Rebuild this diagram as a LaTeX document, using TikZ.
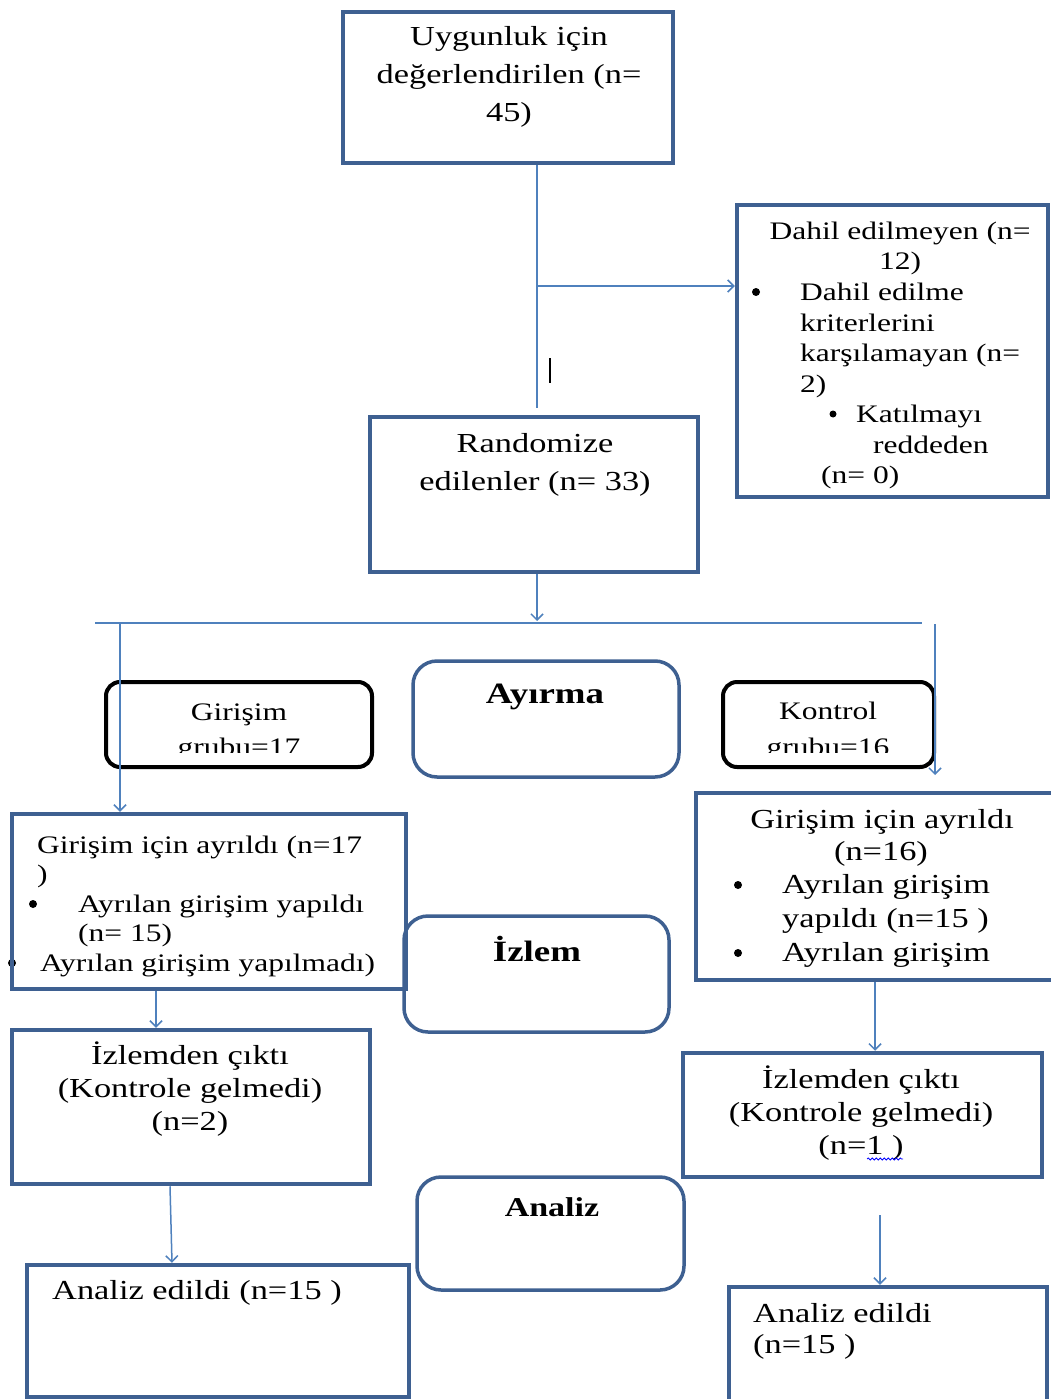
\documentclass[tikz,border=0pt]{standalone}
\usepackage{fontspec}
\setmainfont{Liberation Serif}[FakeStretch=1.25]
\usetikzlibrary{arrows.meta,decorations.pathmorphing}
\definecolor{boxblue}{RGB}{62,96,145}
\definecolor{lineblue}{RGB}{79,129,189}
\newcommand\szbig{\fontsize{27.5}{33}\selectfont}
\newcommand\szsmall{\fontsize{25.2}{30}\selectfont}
\newcommand\szboldA{\fontsize{29.5}{33}\selectfont\bfseries}
\newcommand\szboldB{\fontsize{27.2}{33}\selectfont\bfseries}
\begin{document}
\begin{tikzpicture}[x=1pt,y=-1pt,
  rbox/.style={draw=boxblue, line width=4.5pt, inner sep=0pt},
  gbox/.style={draw=black, line width=4pt, rounded corners=14pt, inner sep=0pt},
  bbox/.style={draw=boxblue, line width=3.5pt, rounded corners=24pt, inner sep=0pt},
  conn/.style={draw=lineblue, line width=1.5pt},
  arr/.style={conn, -{Straight Barb[length=6pt,width=12pt]}},
  dot/.style={circle, fill=black, inner sep=0pt, minimum size=8pt},
  txb/.style={inner sep=0pt, anchor=base, font=\szbig},
  txbl/.style={inner sep=0pt, anchor=base west, font=\szbig},
  txs/.style={inner sep=0pt, anchor=base, font=\szsmall},
  txsl/.style={inner sep=0pt, anchor=base west, font=\szsmall},
  txh/.style={inner sep=0pt, anchor=base, font=\szboldA},
  txh2/.style={inner sep=0pt, anchor=base, font=\szboldB}]
\useasboundingbox[fill=white] (0,0) rectangle (1051,1399);

% half-hidden bullet under the left border
\node[dot] (glb2) at (12,963) {};

% boxes
\node[rbox, minimum width=330pt, minimum height=151pt] (top) at (508,87.5) {};
\node[rbox, minimum width=311pt, minimum height=292pt] (dahil) at (892.5,351) {};
\node[rbox, minimum width=328pt, minimum height=155pt] (rand) at (534,494.5) {};
\node[gbox, minimum width=266pt, minimum height=85pt] (ggrp) at (239,724.5) {};
\node[gbox, minimum width=211pt, minimum height=85pt] (kgrp) at (828.5,724.5) {};
\node[bbox, minimum width=266pt, minimum height=116pt] (ayr) at (546,719) {};
\node[rbox, minimum width=394pt, minimum height=175pt] (gl) at (209,901.5) {};
\node[rbox, minimum width=364pt, minimum height=187pt] (gr) at (878,886.5) {};
\node[bbox, minimum width=265pt, minimum height=116pt] (izl) at (536.5,974) {};
\node[rbox, minimum width=358pt, minimum height=154pt] (lizl) at (191,1107) {};
\node[rbox, minimum width=359pt, minimum height=124pt] (rizl) at (862.5,1115) {};
\node[bbox, minimum width=267pt, minimum height=113pt] (anl) at (550.5,1233.5) {};
\node[rbox, minimum width=382pt, minimum height=132pt] (lanl) at (218,1331) {};
\node[rbox, minimum width=318pt, minimum height=133pt] (ranl) at (888,1353.5) {};

% texts: top
\node[txb] (t1) at (509,46) {Uygunluk için};
\node[txb] (t2) at (509,84) {değerlendirilen (n=};
\node[txb] (t3) at (509,122) {45)};
% dahil
\node[txs] (d1) at (900,239) {Dahil edilmeyen (n=};
\node[txs] (d2) at (900,269) {12)};
\node[dot] (d3b) at (756,292) {};
\node[txsl] (d3) at (800,300) {Dahil edilme};
\node[txsl] (d4) at (800,331) {kriterlerini};
\node[txsl] (d5) at (800,361) {karşılamayan (n=};
\node[txsl] (d6) at (800,392) {2)};
\node[dot, minimum size=7pt] (d7b) at (833,414) {};
\node[txsl] (d7) at (856,422) {Katılmayı};
\node[txsl] (d8) at (873,453) {reddeden};
\node[txsl] (d9) at (821,483) {(n= 0)};
% randomize
\node[txb] (r1) at (535,452) {Randomize};
\node[txb] (r2) at (535,490) {edilenler (n= 33)};
% groups
\node[txs] (g1) at (239,720) {Girişim};
\begin{scope}
\clip (100,670) rectangle (380,752);
\node[txs] (g2) at (239,755) {grubu=17};
\end{scope}
\node[txs] (k1) at (828,719) {Kontrol};
\begin{scope}
\clip (715,670) rectangle (940,752);
\node[txs] (k2) at (828,755) {grubu=16};
\end{scope}
\node[txh] (h1) at (545,703) {Ayırma};
% left allocation
\node[txsl] (l1) at (37,853) {Girişim için ayrıldı (n=17};
\node[txsl] (l2) at (37,882) {)};
\node[dot] (l3b) at (33,904) {};
\node[txsl] (l3) at (78,912) {Ayrılan girişim yapıldı};
\node[txsl] (l4) at (78,941) {(n= 15)};
\node[txsl] (l5) at (40,971) {Ayrılan girişim yapılmadı)};
% right allocation
\node[txb] (q1) at (882,828) {Girişim için ayrıldı};
\node[txb] (q2) at (881,860) {(n=16)};
\node[dot] (q3b) at (738,885) {};
\node[txbl] (q3) at (782,893) {Ayrılan girişim};
\node[txbl] (q4) at (782,927) {yapıldı (n=15 )};
\node[dot] (q5b) at (738,953) {};
\node[txbl] (q5) at (782,961) {Ayrılan girişim};
\node[txh] (h2) at (537,961) {İzlem};
% follow-up
\node[txb] (f1) at (190,1064) {İzlemden çıktı};
\node[txb] (f2) at (190,1097) {(Kontrole gelmedi)};
\node[txb] (f3) at (190,1130) {(n=2)};
\node[txb] (e1) at (861,1088) {İzlemden çıktı};
\node[txb] (e2) at (861,1121) {(Kontrole gelmedi)};
\node[txb] (e3) at (861,1154) {(n=1 )};
\draw[blue, line width=0.8pt, decorate, decoration={snake, amplitude=1pt, segment length=4pt}] (867,1159) -- (903,1159);
\node[txh2] (h3) at (552,1216) {Analiz};
% analysis
\node[txbl] (a1) at (52,1299) {Analiz edildi (n=15 )};
\node[txbl] (b1) at (753,1322) {Analiz edildi};
\node[txbl] (b2) at (753,1353) {(n=15 )};

% cursor mark
\draw[black, line width=1.5pt] (550,358) -- (550,383);

% coordinates
\coordinate (xmain) at (537,0);
\coordinate (vend) at (537,408);
\coordinate (branch) at (537,286);
\coordinate (hjunc) at (537,621);
\coordinate (hl) at (95,623);
\coordinate (hr) at (922,623);
\coordinate (lv) at (120,623);
\coordinate (rv) at (935,624);
\coordinate (rvend) at (935,775);
\coordinate (x156) at (156,0);
\coordinate (x170) at (170,0);
\coordinate (x172) at (172,0);
\coordinate (x875) at (875,0);
\coordinate (rfree) at (880,1215);

% connectors
\draw[conn] (top.south -| xmain) -- (vend);
\draw[arr] (branch) -- (dahil.west |- branch);
\draw[arr] (rand.south -| xmain) -- (hjunc);
\draw[conn] (hl) -- (hr);
\draw[arr] (lv) -- (gl.north -| lv);
\draw[arr] (rv) -- (rvend);
\draw[arr] (gl.south -| x156) -- (lizl.north -| x156);
\draw[arr] (lizl.south -| x170) -- (lanl.north -| x172);
\draw[arr] (gr.south -| x875) -- (rizl.north -| x875);
\draw[arr] (rfree) -- (ranl.north -| rfree);
\end{tikzpicture}
\end{document}
